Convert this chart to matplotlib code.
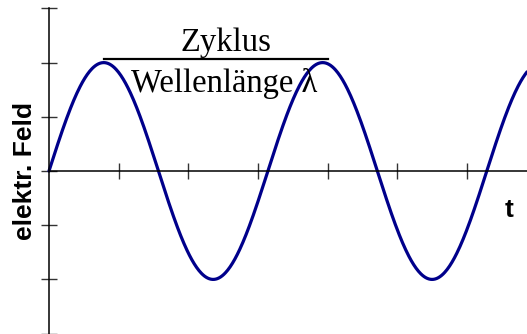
import numpy as np
import matplotlib.pyplot as plt

# values
amplitude = 2.0            # peak height in tick units
wavelength = np.pi         # one cycle in tick units
t_end = 6.86
x_ticks = [1, 2, 3, 4, 5, 6]
y_ticks = [-3, -2, -1, 0, 1, 2, 3]
bracket_x = [np.pi / 4, 4.0]
bracket_y = 2.07

# sample the wave
t = np.linspace(0, t_end, 600)
feld = amplitude * np.sin(2 * np.pi * t / wavelength)

fig = plt.figure(figsize=(5.27, 3.34), dpi=100)
ax = fig.add_axes([0, 0, 1, 1])
ax.set_xlim(-0.703, t_end)
ax.set_ylim(-3.007, 3.155)

ax.plot(t, feld, color='#00008b', lw=2.3, solid_capstyle='round')

# axes through the origin
for side in ['top', 'right']:
    ax.spines[side].set_visible(False)
ax.spines['left'].set_position(('data', 0))
ax.spines['bottom'].set_position(('data', 0))
ax.spines['left'].set_bounds(-3.1, 3)
ax.spines['bottom'].set_bounds(0, t_end)
for s in ['left', 'bottom']:
    ax.spines[s].set_linewidth(1.1)
ax.set_xticks(x_ticks)
ax.set_yticks(y_ticks)
ax.tick_params(direction='inout', length=11.5, width=1.0, color='#333333',
               labelbottom=False, labelleft=False)

# cycle bracket
ax.plot(bracket_x, [bracket_y, bracket_y], color='black', lw=1.6)
ax.text(2.54, 2.37, 'Zyklus', ha='center', va='center',
        family='Liberation Serif', fontsize=23.5)
ax.text(2.52, 1.62, 'Wellenlänge λ', ha='center', va='center',
        family='Liberation Serif', fontsize=23.5)

# axis labels
ax.text(-0.34, 0, 'elektr. Feld', rotation=90, ha='center', va='center',
        family='Liberation Sans', fontweight='bold', fontsize=19)
ax.text(6.6, -0.72, 't', ha='center', va='center',
        family='Liberation Sans', fontweight='bold', fontsize=19)

fig.savefig('out.png', dpi=100)
